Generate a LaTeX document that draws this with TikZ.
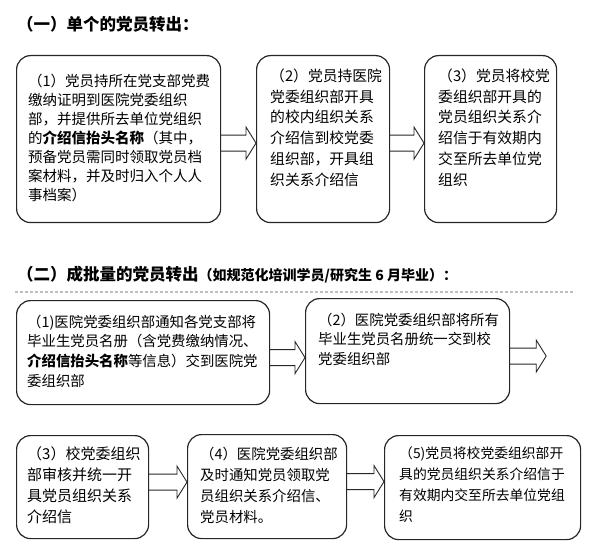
\documentclass[tikz,border=0pt]{standalone}
\usepackage{fontspec}
\setmainfont{Noto Sans CJK SC}
\usetikzlibrary{calc}

\tikzset{
  stepbox/.style={draw=black!85, line width=1.2pt, rounded corners=14pt, anchor=north west},
  steptext/.style={anchor=north west, inner sep=0pt, align=left, font=\fontsize{14.5}{19}\selectfont},
  flowarrow/.style={draw=black!85, line width=0.9pt, line join=miter},
  titletext/.style={anchor=west, inner sep=0pt, font=\bfseries\fontsize{16.5}{19}\selectfont}
}

\begin{document}
\begin{tikzpicture}[x=1pt, y=-1pt]
	\useasboundingbox (0,0) rectangle (597,556);
	
	% part one
	\node[titletext] (title1) at (17,24) {（一）单个的党员转出：};
	
	\node[stepbox, minimum width=204pt, minimum height=167pt] (a1) at (16,55) {};
	\node[stepbox, minimum width=133pt, minimum height=167pt] (a2) at (256,55) {};
	\node[stepbox, minimum width=132pt, minimum height=167pt] (a3) at (424,55) {};
	
	\node[steptext] (a1text) at ($(a1.north west)+(12,18.5)$) {（1）党员持所在党支部党费\\缴纳证明到医院党委组织\\部，并提供所去单位党组织\\的\textbf{介绍信抬头名称}（其中，\\预备党员需同时领取党员档\\案材料，并及时归入个人人\\事档案）};
	\node[steptext, font=\fontsize{14.8}{20.8}\selectfont] (a2text) at ($(a2.north west)+(14,13.5)$) {（2）党员持医院\\党委组织部开具\\的校内组织关系\\介绍信到校党委\\组织部，开具组\\织关系介绍信};
	\node[steptext, font=\fontsize{14.8}{20.8}\selectfont] (a3text) at ($(a3.north west)+(14,13.5)$) {（3）党员将校党\\委组织部开具的\\党员组织关系介\\绍信于有效期内\\交至所去单位党\\组织};
	
	% part two
	\node[titletext] (title2) at (17,275) {（二）成批量的党员转出{\fontsize{14}{16}\selectfont（如规范化培训学员/研究生 6 月毕业）：}};
	\draw[black!25, line width=1.5pt, dash pattern=on 3pt off 2pt] (15,292) -- (575,292);
	
	\node[stepbox, minimum width=253pt, minimum height=104pt] (b1) at (16,300) {};
	\node[stepbox, minimum width=204pt, minimum height=105pt] (b2) at (305,298) {};
	
	\node[steptext, font=\fontsize{14.4}{19.7}\selectfont] (b1text) at ($(b1.north west)+(11,14.5)$) {（1)医院党委组织部通知各党支部将\\毕业生党员名册（含党费缴纳情况、\\\textbf{介绍信抬头名称}等信息）交到医院党\\委组织部};
	\node[steptext, font=\fontsize{14.4}{19.5}\selectfont] (b2text) at ($(b2.north west)+(13,14.5)$) {（2）医院党委组织部将所有\\毕业生党员名册统一交到校\\党委组织部};
	
	\node[stepbox, minimum width=132pt, minimum height=103pt] (c1) at (16,435) {};
	\node[stepbox, minimum width=159pt, minimum height=104pt] (c2) at (187,434) {};
	\node[stepbox, minimum width=196pt, minimum height=104pt] (c3) at (384,435) {};
	
	\node[steptext, font=\fontsize{15}{21}\selectfont] (c1text) at ($(c1.north west)+(11,11.5)$) {（3）校党委组织\\部审核并统一开\\具党员组织关系\\介绍信};
	\node[steptext, font=\fontsize{14.4}{21}\selectfont] (c2text) at ($(c2.north west)+(13,12.5)$) {（4）医院党委组织部\\及时通知党员领取党\\员组织关系介绍信、\\党员材料。};
	\node[steptext, font=\fontsize{13.8}{21}\selectfont] (c3text) at ($(c3.north west)+(15,11.5)$) {（5)党员将校党委组织部开\\具的党员组织关系介绍信于\\有效期内交至所去单位党组\\织};
	
	% block arrows
	\coordinate (b2next) at ($(b2.east)+(36,0)$);
	\foreach \from/\to/\dy in {a1.east/a2.west/4, a2.east/a3.west/4, b1.east/b2.west/5, b2.east/b2next/5, c1.east/c2.west/-5, c2.east/c3.west/-5}{
		\coordinate (s) at ($(\from)+(0,\dy)$);
		\coordinate (e) at (\to |- s);
		\draw[flowarrow] ($(s)+(0,-8)$) -- ($(e)+(-10,-8)$) -- ($(e)+(-10,-16)$) -- (e) -- ($(e)+(-10,16)$) -- ($(e)+(-10,8)$) -- ($(s)+(0,8)$);
	}
\end{tikzpicture}
\end{document}
